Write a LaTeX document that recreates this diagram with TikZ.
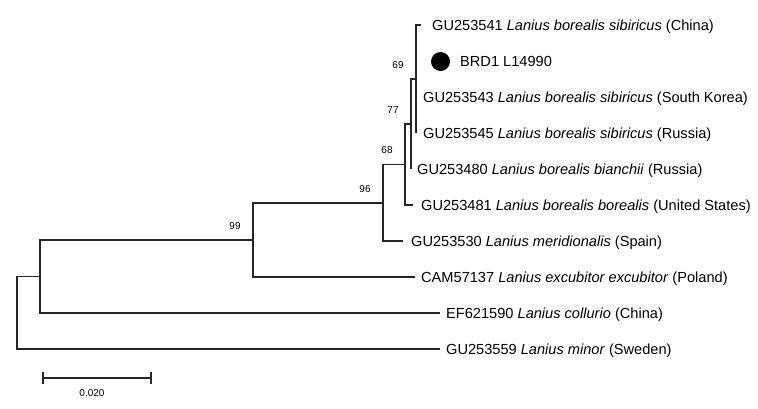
\documentclass[tikz,border=0pt]{standalone}
\usepackage{fontspec}
\setmainfont{Liberation Sans}
\usetikzlibrary{positioning}
\tikzset{
  branch/.style={line width=1.3pt,color=black!85},
  taxon/.style={anchor=base west,inner sep=0pt,font=\fontsize{14.6}{17}\selectfont},
  boot/.style={inner sep=0pt,font=\fontsize{10}{12}\selectfont},
  marker/.style={circle,fill=black,inner sep=0pt,minimum size=19pt}
}
\begin{document}
\begin{tikzpicture}[x=1pt,y=-1pt,line join=miter]
			\useasboundingbox (0,0) rectangle (758,408);
			% inner nodes
			\coordinate (n69) at (416,79);
			\coordinate (n77) at (411,124);
			\coordinate (n68) at (405,164.5);
			\coordinate (n96) at (383,203);
			\coordinate (n99) at (253,240);
			\coordinate (n40) at (40,276.5);
			\coordinate (root) at (17,312.75);
			% tips
			\coordinate (t541) at (421,25);
			\coordinate (brd) at (416,61);
			\coordinate (t543) at (416,97);
			\coordinate (t545) at (416,133);
			\coordinate (t480) at (411,169);
			\coordinate (t481) at (413,205);
			\coordinate (t530) at (403,241);
			\coordinate (cam) at (415,277);
			\coordinate (ef) at (440,313);
			\coordinate (t559) at (440,349);
			\foreach \p/\c in {n69/t541,n69/brd,n69/t543,n69/t545,n77/n69,n77/t480,n68/n77,n68/t481,n96/n68,n96/t530,n99/n96,n99/cam,n40/n99,n40/ef,root/n40,root/t559}
			\draw[branch] (\p) |- (\c);
			% labels
			\node[taxon] (l541) at ([shift={(11,5.2)}]t541) {GU253541 \textit{Lanius borealis sibiricus} (China)};
			\node[marker] (mbrd) at ([shift={(24.5,0.5)}]brd) {};
			\node[taxon] (lbrd) at ([shift={(44,5.2)}]brd) {BRD1 L14990};
			\node[taxon] (l543) at ([shift={(7,5.2)}]t543) {GU253543 \textit{Lanius borealis sibiricus} (South Korea)};
			\node[taxon] (l545) at ([shift={(7,5.2)}]t545) {GU253545 \textit{Lanius borealis sibiricus} (Russia)};
			\node[taxon] (l480) at ([shift={(6,5.2)}]t480) {GU253480 \textit{Lanius borealis bianchii} (Russia)};
			\node[taxon] (l481) at ([shift={(8,5.2)}]t481) {GU253481 \textit{Lanius borealis borealis} (United States)};
			\node[taxon] (l530) at ([shift={(8,5.2)}]t530) {GU253530 \textit{Lanius meridionalis} (Spain)};
			\node[taxon] (lcam) at ([shift={(6,5.2)}]cam) {CAM57137 \textit{Lanius excubitor excubitor} (Poland)};
			\node[taxon] (lef) at ([shift={(6,5.2)}]ef) {EF621590 \textit{Lanius collurio} (China)};
			\node[taxon] (l559) at ([shift={(6,5.2)}]t559) {GU253559 \textit{Lanius minor} (Sweden)};
			% bootstrap
			\foreach \n/\v in {n69/69,n77/77,n68/68,n96/96,n99/99}
			\node[boot] (b\v) at ([shift={(-18,-14)}]\n) {\v};
			% scale
			\coordinate (s0) at (43,378);
			\coordinate (s1) at (151,378);
			\draw[branch] (s0) -- (s1);
			\draw[branch] ([yshift=6pt]s0) -- ([yshift=-6pt]s0);
			\draw[branch] ([yshift=6pt]s1) -- ([yshift=-6pt]s1);
			\node[boot] (sc) at (92,393) {0.020};
\end{tikzpicture}
\end{document}
